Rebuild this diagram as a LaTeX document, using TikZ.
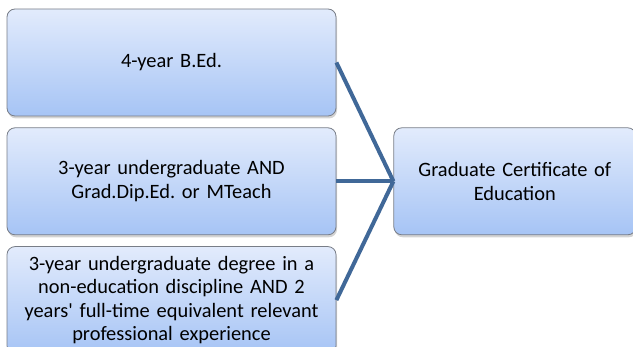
\documentclass[tikz,border=0pt]{standalone}
\usepackage{fontspec}
\setmainfont{Carlito}
\usetikzlibrary{shadows}
\usetikzlibrary{positioning}
\definecolor{boxtop}{RGB}{226,235,252}
\definecolor{boxbottom}{RGB}{166,196,245}
\definecolor{boxline}{RGB}{120,125,135}
\definecolor{linkblue}{RGB}{64,104,152}
\tikzset{
  % Common styles for the diagram
  route/.style={rectangle, draw=boxline, line width=0.8pt, rounded corners=8pt,
    top color=boxtop, bottom color=boxbottom, text width=320pt, align=center,
    minimum width=329pt, minimum height=107pt,
    drop shadow={opacity=0.35, shadow xshift=1pt, shadow yshift=-2.5pt}},
  link/.style={draw=linkblue, line width=4pt}
}

\begin{document}
\begin{tikzpicture}[x=1pt, y=-1pt, font=\fontsize{20.4}{23.5}\selectfont]
    \useasboundingbox (0,0) rectangle (633,347);

    % Place nodes - pathways on the left
    \node [route] (bed) at (171.5,62.5) {4-year B.Ed.};
    \node [route, below=11pt of bed] (gradip) {3-year undergraduate AND\\Grad.Dip.Ed.\ or MTeach};
    \node [route, below=11pt of gradip] (exper) {3-year undergraduate degree in a\\non-education discipline AND 2\\years\textquotesingle{} full-time equivalent relevant\\professional experience};

    % Place nodes - the qualification
    \node [route, minimum width=242pt, text width=235pt, right=57pt of gradip] (gce) {Graduate Certificate of\\Education};

    % Connect pathways to the qualification
    \path [link] (bed.east) -- (gce.west);
    \path [link] (gradip.east) -- (gce.west);
    \path [link] (exper.east) -- (gce.west);

\end{tikzpicture}
\end{document}
